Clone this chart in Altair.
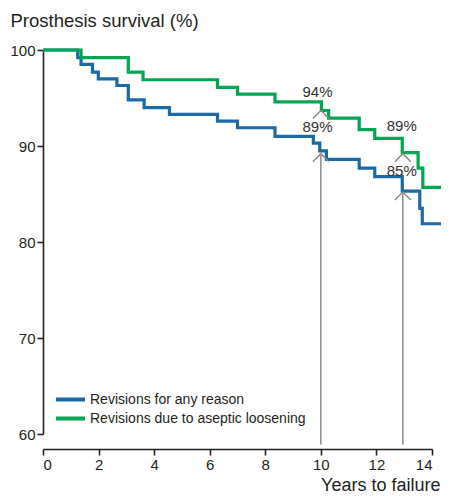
import altair as alt
import pandas as pd

# Kaplan-Meier style step data
any_t = [0, 1.25, 1.37, 1.78, 1.99, 2.66, 3.07, 3.64, 4.55, 6.28, 7.0, 8.35, 9.73, 9.96, 10.2, 11.38, 11.94, 12.93, 13.56, 13.65, 14.35]
any_s = [100, 99.2, 98.5, 97.7, 97.0, 96.3, 94.8, 94.0, 93.3, 92.6, 91.9, 91.0, 90.3, 89.5, 88.6, 87.7, 86.8, 85.3, 83.5, 81.9, 81.9]
asep_t = [0, 1.37, 3.07, 3.6, 6.28, 7.0, 8.35, 10.02, 10.28, 11.38, 11.94, 12.93, 13.5, 13.67, 14.35]
asep_s = [100, 99.2, 97.7, 96.9, 96.1, 95.4, 94.6, 93.7, 92.9, 91.7, 90.8, 89.3, 87.7, 85.7, 85.7]

series_names = ["Revisions for any reason", "Revisions due to aseptic loosening"]
series_colors = ["#1b6aa5", "#00a651"]

# annotations
label_x = [9.88, 9.88, 12.91, 12.91]
label_y = [95.6, 92.0, 92.05, 87.4]
label_txt = ["94%", "89%", "89%", "85%"]
chev_x = [10.0, 10.0, 12.95, 12.95]
chev_y = [93.7, 89.2, 89.2, 85.2]
rule_x = [10.0, 12.95]
rule_top = [89.2, 85.2]
rule_bottom = [58.9, 58.9]

curves = pd.concat([
    pd.DataFrame({"t": any_t, "s": any_s, "series": series_names[0]}),
    pd.DataFrame({"t": asep_t, "s": asep_s, "series": series_names[1]}),
])
labels = pd.DataFrame({"x": label_x, "y": label_y, "txt": label_txt})
chevs = pd.DataFrame({"x": chev_x, "y": chev_y})
rules = pd.DataFrame({"x": rule_x, "y": rule_top, "y2": rule_bottom})

FONT = "Liberation Sans"
INK = "#231f20"

xs = alt.Scale(domain=[0, 14], nice=False)
ys = alt.Scale(domain=[60, 100], nice=False, zero=False)

lines = alt.Chart(curves).mark_line(interpolate="step-after", strokeWidth=3.2).encode(
    x=alt.X("t:Q", scale=xs, axis=alt.Axis(
        values=[0, 2, 4, 6, 8, 10, 12, 14], format="d", offset=15, grid=False,
        domainColor=INK, domainWidth=1.6, tickColor=INK, tickWidth=1.6, tickSize=6,
        labelFont=FONT, labelFontSize=15, labelColor=INK, labelPadding=2,
        title="Years to failure", titleFont=FONT, titleFontSize=18, titleFontWeight="normal",
        titleColor=INK, titleAnchor="end", titleAlign="right", titleX=397, titleY=41,
        titleBaseline="alphabetic")),
    y=alt.Y("s:Q", scale=ys, axis=alt.Axis(
        values=[60, 70, 80, 90, 100], grid=False,
        domainColor=INK, domainWidth=1.6, tickColor=INK, tickWidth=1.6, tickSize=6,
        labelFont=FONT, labelFontSize=15, labelColor=INK, labelPadding=2,
        title="Prosthesis survival (%)", titleFont=FONT, titleFontSize=18.5,
        titleFontWeight="normal", titleColor=INK, titleAngle=0, titleAlign="left",
        titleBaseline="alphabetic", titleX=-33, titleY=-24)),
    color=alt.Color("series:N", scale=alt.Scale(domain=series_names, range=series_colors),
                    legend=alt.Legend(title=None, orient="none", legendX=11, legendY=341,
                                      symbolType="stroke", symbolSize=841, symbolStrokeWidth=4,
                                      clipHeight=17, rowPadding=2, labelFont=FONT,
                                      labelFontSize=14, labelColor=INK, labelOffset=3,
                                      labelLimit=0)),
    order="t:Q",
)

vrules = alt.Chart(rules).mark_rule(color="#8c8c8c", strokeWidth=1.5).encode(
    x="x:Q", y="y:Q", y2="y2:Q")

chev = alt.Chart(chevs).mark_point(
    shape="M-1,1L0,0L1,1", size=256, filled=False, color="#8c8c8c", strokeWidth=1.5, opacity=1
).encode(x="x:Q", y="y:Q")

txt = alt.Chart(labels).mark_text(font=FONT, fontSize=15, color="#333333", baseline="middle").encode(
    x="x:Q", y="y:Q", text="txt:N")

chart = alt.layer(vrules, lines, chev, txt).properties(
    width=389, height=384,
    autosize=alt.AutoSizeParams(type="none"),
    padding={"left": 35, "top": 42, "right": 9, "bottom": 61},
).configure_view(stroke=None)

chart.save("out.html", embed_options={"renderer": "svg", "actions": False})
